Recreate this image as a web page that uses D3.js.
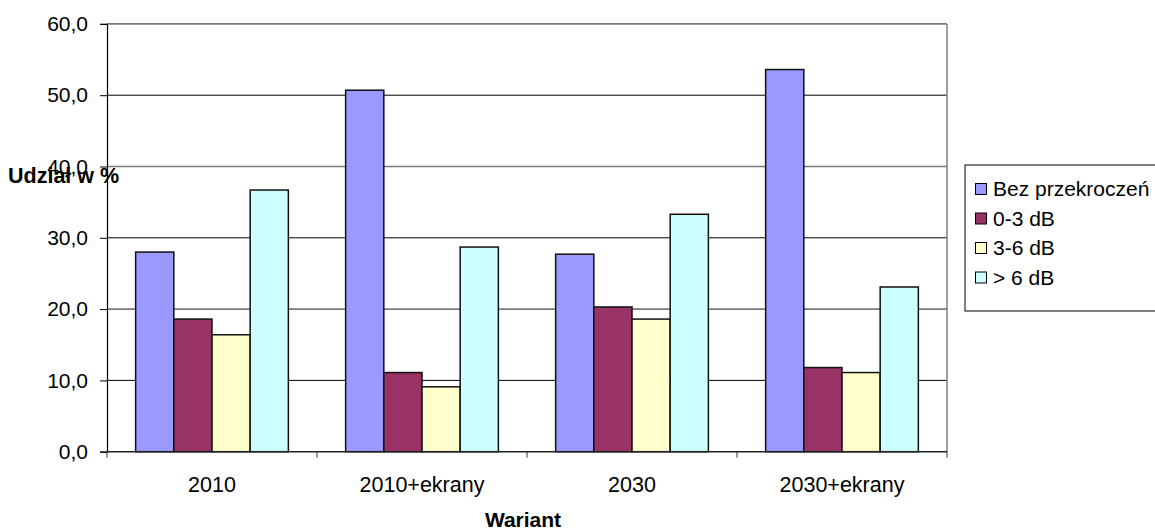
<!DOCTYPE html>
<html>
<head>
<meta charset="utf-8">
<script src="https://cdn.jsdelivr.net/npm/d3@7"></script>
<style>
  html, body { margin: 0; padding: 0; background: #fff; }
  svg text { font-family: "Liberation Sans", Arial, sans-serif; fill: #000; }
</style>
</head>
<body>
<svg id="chart" width="1155" height="531"></svg>
<script>
// Wariant categories and share of area per noise exceedance class (%)
const categories = ["2010", "2010+ekrany", "2030", "2030+ekrany"];
const seriesNames = ["Bez przekroczeń", "0-3 dB", "3-6 dB", "> 6 dB"];
const bezPrzekroczen = [28.0, 50.7, 27.7, 53.6];
const db0to3 = [18.6, 11.1, 20.3, 11.8];
const db3to6 = [16.4, 9.1, 18.6, 11.1];
const dbOver6 = [36.7, 28.7, 33.3, 23.1];
const seriesValues = [bezPrzekroczen, db0to3, db3to6, dbOver6];
const seriesColors = ["#9999FF", "#993366", "#FFFFCC", "#CCFFFF"];
const yTicks = [0, 10, 20, 30, 40, 50, 60];

const svg = d3.select("#chart");
const plot = { left: 107, right: 947, top: 23.9, bottom: 451.7 };

const y = d3.scaleLinear().domain([0, 60]).range([plot.bottom, plot.top]);
const x0 = d3.scaleBand().domain(categories).range([plot.left, plot.right]).padding(0);
const barW = x0.bandwidth() / 5.5;
const x1 = d3.scaleBand().domain(seriesNames)
  .range([0.75 * barW, 4.75 * barW]).padding(0);

// horizontal gridlines
svg.append("g").selectAll("line")
  .data(yTicks.filter(d => d > 0))
  .join("line")
  .attr("x1", plot.left).attr("x2", plot.right)
  .attr("y1", d => y(d)).attr("y2", d => y(d))
  .attr("stroke", d => (d / 10) % 2 === 0 ? "#7a7a7a" : "#000")
  .attr("stroke-width", d => (d / 10) % 2 === 0 ? 1.6 : 1);

// right border of plot area
svg.append("line")
  .attr("x1", plot.right).attr("x2", plot.right)
  .attr("y1", plot.top).attr("y2", plot.bottom)
  .attr("stroke", "#808080").attr("stroke-width", 1.5);

// bars
const data = [];
categories.forEach((c, i) => {
  seriesNames.forEach((s, j) => {
    data.push({ cat: c, series: s, value: seriesValues[j][i], color: seriesColors[j] });
  });
});

svg.append("g").selectAll("rect")
  .data(data)
  .join("rect")
  .attr("x", d => x0(d.cat) + x1(d.series))
  .attr("y", d => y(d.value))
  .attr("width", x1.bandwidth())
  .attr("height", d => y(0) - y(d.value))
  .attr("fill", d => d.color)
  .attr("stroke", "#111")
  .attr("stroke-width", 1.5);

// y axis
const yAxis = d3.axisLeft(y).tickValues(yTicks).tickSize(7).tickPadding(12)
  .tickFormat(d => d3.format(".1f")(d).replace(".", ","));
const gy = svg.append("g").attr("transform", `translate(${plot.left},0)`).call(yAxis);
gy.select(".domain").attr("stroke", "#000").attr("stroke-width", 1.2);
gy.selectAll(".tick line").attr("stroke", "#000");
gy.selectAll(".tick text").attr("font-size", 21).attr("fill", "#000")
  .attr("font-family", "Liberation Sans, Arial, sans-serif");

// x axis with ticks on category boundaries
const gx = svg.append("g").attr("transform", `translate(0,${plot.bottom})`);
gx.append("line").attr("x1", plot.left).attr("x2", plot.right)
  .attr("stroke", "#222").attr("stroke-width", 1.5);
const boundaries = categories.map(c => x0(c)).concat([plot.right]);
gx.selectAll("line.tk").data(boundaries).join("line").attr("class", "tk")
  .attr("x1", d => d).attr("x2", d => d).attr("y1", 0).attr("y2", 6)
  .attr("stroke", "#333");
gx.selectAll("text").data(categories).join("text")
  .attr("x", d => x0(d) + x0.bandwidth() / 2)
  .attr("y", 40)
  .attr("text-anchor", "middle")
  .attr("font-size", 21.5)
  .text(d => d);

// axis titles
svg.append("text").attr("x", 8).attr("y", 183)
  .attr("font-size", 21.5).attr("font-weight", "bold").text("Udział w %");
svg.append("text").attr("x", (plot.left + plot.right) / 2 - 4).attr("y", 527)
  .attr("text-anchor", "middle").attr("font-size", 21).attr("font-weight", "bold")
  .text("Wariant");

// legend
const legend = svg.append("g").attr("transform", "translate(965,165)");
legend.append("rect").attr("x", 0).attr("y", 0).attr("width", 200).attr("height", 146)
  .attr("fill", "#fff").attr("stroke", "#000").attr("stroke-width", 1);
const items = legend.selectAll("g.item").data(seriesNames).join("g").attr("class", "item")
  .attr("transform", (d, i) => `translate(0,${24 + i * 29.5})`);
items.append("rect").attr("x", 10.5).attr("y", -5.5).attr("width", 11).attr("height", 11)
  .attr("fill", (d, i) => seriesColors[i]).attr("stroke", "#000").attr("stroke-width", 1);
items.append("text").attr("x", 28).attr("y", 7).attr("font-size", 21).text(d => d);
</script>
</body>
</html>
